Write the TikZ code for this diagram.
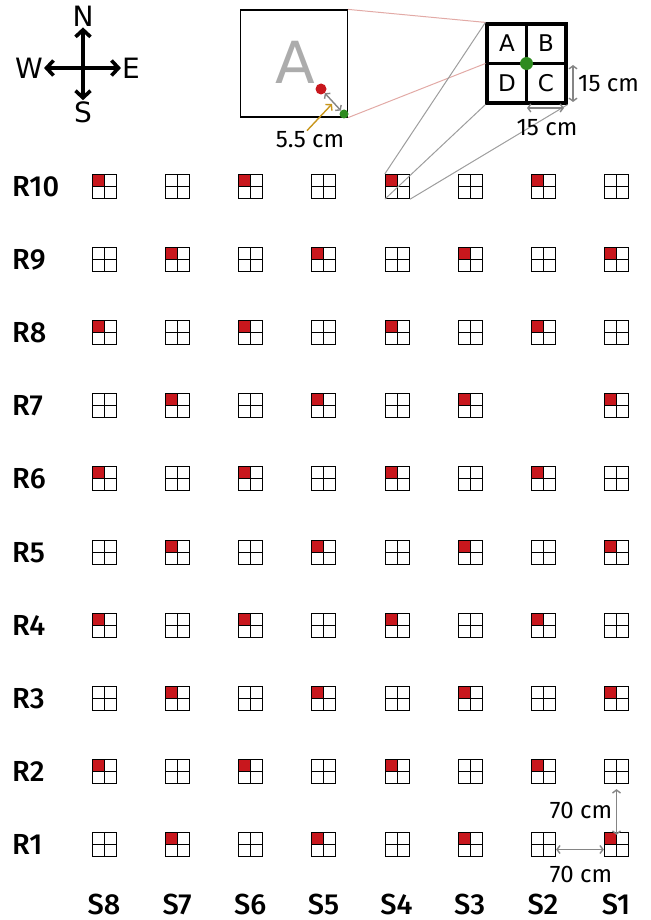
\documentclass[tikz,border=0pt]{standalone}
\usepackage{fontspec}
\setmainfont{DejaVu Sans}
\newfontfamily\lblfont{Fira Sans Medium}
\newfontfamily\dimfont{Fira Sans}
\usepackage{xcolor}
\usetikzlibrary{arrows.meta,positioning}
\definecolor{plotred}{HTML}{C8171D}
\definecolor{dotgreen}{HTML}{2E8B1F}
\definecolor{linkpink}{HTML}{E2AAA6}
\definecolor{dimgray}{HTML}{858585}
\definecolor{tipgold}{HTML}{C8961C}

\begin{document}
\begin{tikzpicture}[
  x=1pt, y=-1pt,
  cell/.style={draw, minimum size=24pt, inner sep=0pt, line width=1.3pt,
    path picture={\draw[line width=1.3pt] (path picture bounding box.north) -- (path picture bounding box.south)
      (path picture bounding box.west) -- (path picture bounding box.east);}},
  plot/.style={draw, minimum size=24pt, inner sep=0pt, line width=1.3pt,
    path picture={\fill[plotred] (path picture bounding box.north west) rectangle (path picture bounding box.center);
      \draw[line width=1.3pt] (path picture bounding box.north) -- (path picture bounding box.south)
      (path picture bounding box.west) -- (path picture bounding box.east);}},
  rowlbl/.style={font=\lblfont\fontsize{29}{29}\selectfont, inner sep=0pt},
  dimlbl/.style={font=\dimfont\fontsize{24}{24}\selectfont, inner sep=1pt},
  compass/.style={line width=3.6pt, -{Straight Barb[length=7pt,width=15pt]}},
  compasslbl/.style={font=\fontsize{28}{28}\selectfont, inner sep=1pt},
  dimarrow/.style={dimgray, line width=1.4pt, {Straight Barb[length=3pt,width=8pt]}-{Straight Barb[length=3pt,width=8pt]}},
  link/.style={dimgray!80, line width=1pt},
  dot/.style={circle, inner sep=0pt, minimum size=#1}
]
\useasboundingbox (0,0) rectangle (650,920);

\coordinate (hub) at (83,68);
\node[compasslbl] (north) at (83,16) {N};
\node[compasslbl] (south) at (83,112) {S};
\node[compasslbl] (west) at (29,68) {W};
\node[compasslbl] (east) at (131,68) {E};
\draw[compass] (hub) -- (north);
\draw[compass] (hub) -- (south);
\draw[compass] (hub) -- (west);
\draw[compass] (hub) -- (east);

\foreach \r in {1,...,10}{
  \pgfmathsetmacro{\yy}{round(844-(\r-1)*73.1)+0.5}
  \node[rowlbl, anchor=west] (row\r) at (12,\yy) {R\r};
  \foreach \s in {1,...,8}{
    \pgfmathsetmacro{\xx}{round(616-(\s-1)*73.14)+0.5}
    \pgfmathtruncatemacro{\odd}{mod(\r+\s,2)}
    \pgfmathtruncatemacro{\gap}{and(\r==7,\s==2)}
    \ifnum\gap=0
      \ifnum\odd=0
        \node[plot] (c\r-\s) at (\xx,\yy) {};
      \else
        \node[cell] (c\r-\s) at (\xx,\yy) {};
      \fi
    \fi
  }
}
\foreach \s in {1,...,8}
  \node[rowlbl] (col\s) at ({616-(\s-1)*73.14},904) {S\s};

\node[draw, line width=1.2pt, minimum size=107pt, inner sep=0pt] (zoomA) at (294,63.5) {};
\node[text=gray!65, font=\fontsize{58}{58}\selectfont] (bigA) at (295,62) {A};
\node[dot=11pt, fill=plotred] (rdot) at (321,89) {};
\node[dot=9pt, fill=dotgreen] (gdot) at (344,114) {};
\draw[dimarrow] (rdot) -- (gdot);
\node[dimlbl] (halfcm) at (310,140) {5.5 cm};
\coordinate (goldtip) at (332,104);
\draw[tipgold, line width=1.4pt, -{Straight Barb[length=4pt,width=9pt]}] ([xshift=-3pt]halfcm.north) -- (goldtip);

\node[draw, line width=3.2pt, minimum size=79pt, inner sep=0pt] (quad) at (526.5,63.5) {};
\draw[line width=3.2pt] (quad.north) -- (quad.south) (quad.west) -- (quad.east);
\node[font=\fontsize{23}{23}\selectfont] (qa) at (507,43) {A};
\node[font=\fontsize{23}{23}\selectfont] (qb) at (546,43) {B};
\node[font=\fontsize{23}{23}\selectfont] (qd) at (507,83) {D};
\node[font=\fontsize{23}{23}\selectfont] (qc) at (546,83) {C};
\node[dot=13pt, fill=dotgreen] (qdot) at (quad.center) {};

\draw[linkpink, line width=1pt] (zoomA.north east) -- (quad.north west);
\draw[linkpink, line width=1pt] (zoomA.south east) -- (quad.west);
\draw[link] (c10-4.north west) -- (quad.north west);
\draw[link] (c10-4.south west) -- (quad.south west);
\draw[link] (c10-4.south east) -- (quad.south east);

\coordinate (vtop) at (573,65);
\coordinate (vbot) at (573,102);
\draw[dimarrow] (vtop) -- (vbot);
\node[dimlbl, anchor=west] (sidecm) at (577,84) {15 cm};
\coordinate (hleft) at (527,108);
\coordinate (hright) at (564,108);
\draw[dimarrow] (hleft) -- (hright);
\node[dimlbl] (basecm) at (547,128) {15 cm};

\draw[dimarrow, shorten <=5pt, shorten >=-3pt] (c2-1.south) -- (c1-1.north);
\node[dimlbl] (rowcm) at (581,810) {70 cm};
\draw[dimarrow] ([yshift=-5pt]c1-2.east) -- ([yshift=-5pt]c1-1.west);
\node[dimlbl] (colcm) at (581,874) {70 cm};
\end{tikzpicture}
\end{document}
